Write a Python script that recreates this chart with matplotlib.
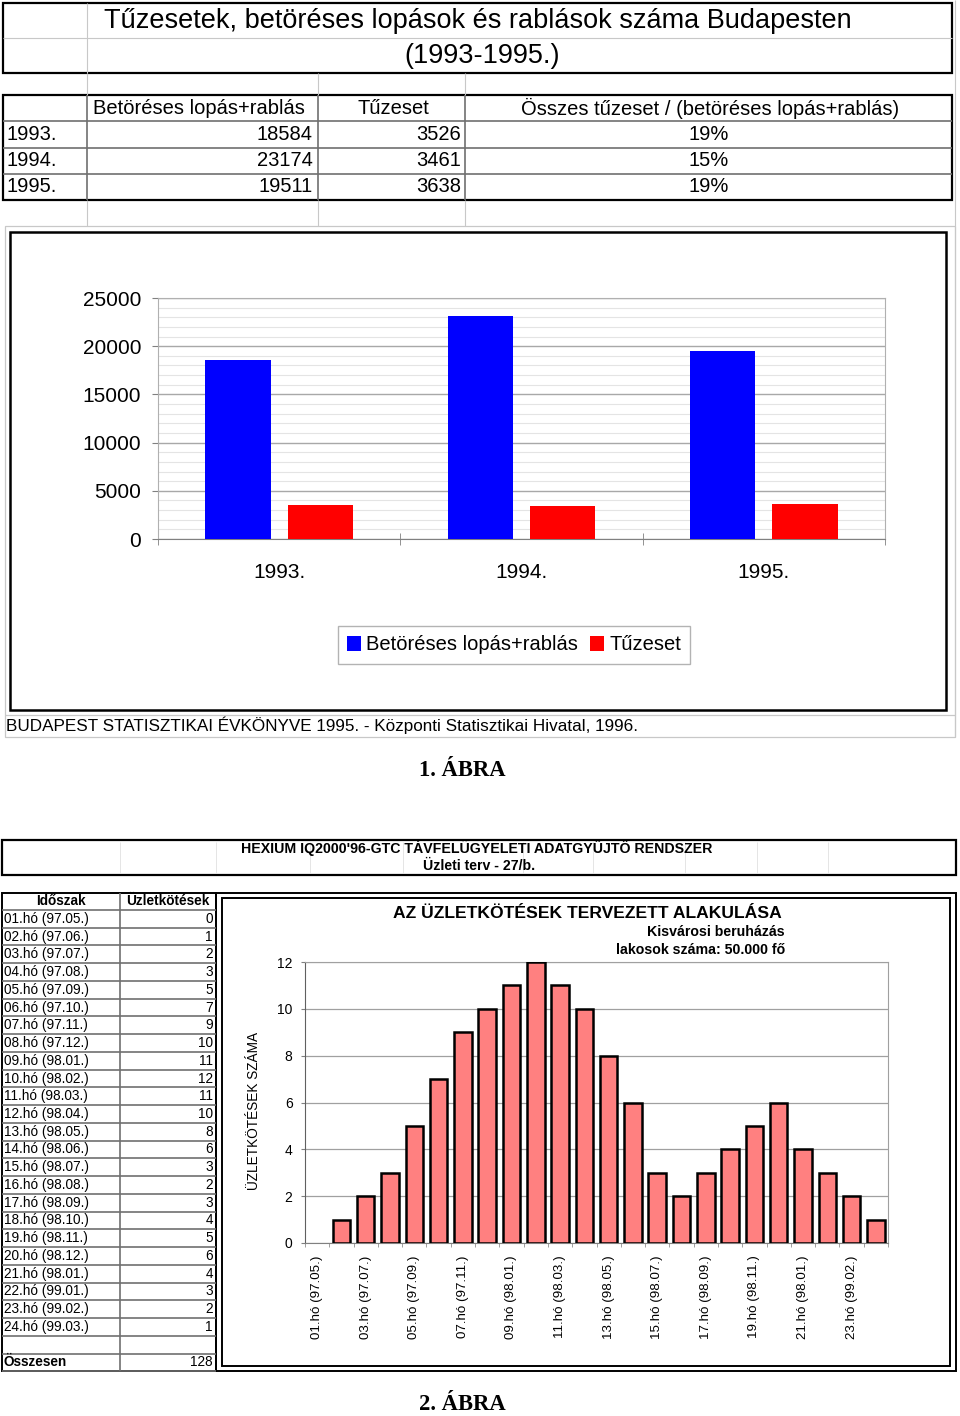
"""
plot.py
    two spreadsheet figures: burglary / fire counts in Budapest (1993-1995)
    and planned business deals per month (HEXIUM IQ2000'96-GTC)
"""

#%% import modules

import numpy as np
import matplotlib.pyplot as plt
import matplotlib as mpl
from matplotlib.patches import Rectangle

#%% global plot settings

mpl.rcParams.update(mpl.rcParamsDefault)
plt.rc('font', **{'family': 'sans-serif', 'sans-serif': ['Liberation Sans', 'DejaVu Sans']})

W, H = 960, 1416

#%% data

# 1. abra
years = ['1993.', '1994.', '1995.']
burglary = [18584, 23174, 19511]
fires = [3526, 3461, 3638]
ratio_labels = ['19%', '15%', '19%']
legend1 = ['Betöréses lopás+rablás', 'Tűzeset']

# 2. abra
periods = ['01.hó (97.05.)', '02.hó (97.06.)', '03.hó (97.07.)', '04.hó (97.08.)',
           '05.hó (97.09.)', '06.hó (97.10.)', '07.hó (97.11.)', '08.hó (97.12.)',
           '09.hó (98.01.)', '10.hó (98.02.)', '11.hó (98.03.)', '12.hó (98.04.)',
           '13.hó (98.05.)', '14.hó (98.06.)', '15.hó (98.07.)', '16.hó (98.08.)',
           '17.hó (98.09.)', '18.hó (98.10.)', '19.hó (98.11.)', '20.hó (98.12.)',
           '21.hó (98.01.)', '22.hó (99.01.)', '23.hó (99.02.)', '24.hó (99.03.)']
deals = [0, 1, 2, 3, 5, 7, 9, 10, 11, 12, 11, 10, 8, 6, 3, 2, 3, 4, 5, 6, 4, 3, 2, 1]

#%% helpers

def rect(x0, y0, x1, y1):
    # pixel box (top-left origin) -> figure fraction
    return [x0 / W, 1 - y1 / H, (x1 - x0) / W, (y1 - y0) / H]

fig = plt.figure(figsize=(W / 100, H / 100), dpi=100)
bg = fig.add_axes([0, 0, 1, 1])
bg.set_xlim(0, W)
bg.set_ylim(H, 0)
bg.axis('off')

light = '#c8c8c8'
mid = '#707070'

def hl(y, x0, x1, c=mid, lw=1.2):
    bg.plot([x0, x1], [y, y], color=c, lw=lw, solid_capstyle='butt')

def vl(x, y0, y1, c=mid, lw=1.2):
    bg.plot([x, x], [y0, y1], color=c, lw=lw, solid_capstyle='butt')

def box(x0, y0, x1, y1, c='k', lw=1.6):
    bg.add_patch(Rectangle((x0, y0), x1 - x0, y1 - y0, fill=False, ec=c, lw=lw))

#%% top table

# spreadsheet grid
hl(38, 3, 952, light, 0.8)
vl(87, 3, 73, light, 0.8)
for x in [87, 318, 465]:
    vl(x, 73, 95, light, 0.8)
    vl(x, 200, 226, light, 0.8)
vl(955, 0, 737, light, 0.8)

box(3, 3, 952, 73)
bg.text(478, 21, 'Tűzesetek, betöréses lopások és rablások száma Budapesten',
        ha='center', va='center', fontsize=19.5)
bg.text(482, 56, '(1993-1995.)', ha='center', va='center', fontsize=19.5)

# data table
box(3, 95, 952, 200)
for y in [121, 147.5, 174]:
    hl(y, 3, 952)
for x in [87, 318, 465]:
    vl(x, 95, 200)
fs_tab = 14.5
bg.text(199, 108, 'Betöréses lopás+rablás', ha='center', va='center', fontsize=fs_tab)
bg.text(393, 108, 'Tűzeset', ha='center', va='center', fontsize=fs_tab)
bg.text(710, 108, 'Összes tűzeset / (betöréses lopás+rablás)', ha='center',
        va='center', fontsize=fs_tab)
for i, yr in enumerate(years):
    y = 134 + i * 26.5
    bg.text(7, y, yr, ha='left', va='center', fontsize=fs_tab)
    bg.text(313, y, str(burglary[i]), ha='right', va='center', fontsize=fs_tab)
    bg.text(461, y, str(fires[i]), ha='right', va='center', fontsize=fs_tab)
    bg.text(709, y, ratio_labels[i], ha='center', va='center', fontsize=fs_tab)

# chart cell + source row
box(5, 226, 955, 737, light, 0.9)
hl(715, 5, 955, light, 0.9)
box(10, 232, 946, 710, 'k', 1.8)
bg.text(6, 725, 'BUDAPEST STATISZTIKAI ÉVKÖNYVE 1995. - Központi Statisztikai Hivatal, 1996.',
        ha='left', va='center', fontsize=12.3)
bg.text(462, 771, '1. ÁBRA', ha='center', va='center', fontsize=16.3,
        family='Liberation Serif', weight='bold')

#%% chart 1

ax1 = fig.add_axes(rect(158, 298, 885, 539))
x = np.arange(len(years))
w = 0.27
b1 = ax1.bar(x - 0.17, burglary, w, color='#0000ff', zorder=3)
b2 = ax1.bar(x + 0.17, fires, w, color='#ff0000', zorder=3)

ax1.set_xlim(-0.5, 2.5)
ax1.set_ylim(0, 25000)
ax1.set_yticks(np.arange(0, 25001, 5000))
ax1.set_yticks(np.arange(0, 25001, 1000), minor=True)
ax1.yaxis.grid(True, which='major', color='#a8a8a8', lw=1.0, zorder=0)
ax1.yaxis.grid(True, which='minor', color='#e4e4e4', lw=0.8, zorder=0)
ax1.tick_params(axis='y', which='major', length=4, color='#808080', pad=8, labelsize=15)
ax1.tick_params(axis='y', which='minor', length=0)
ax1.set_xticks(x)
ax1.set_xticklabels(years)
ax1.set_xticks(np.arange(-0.5, 3, 1), minor=True)
ax1.tick_params(axis='x', which='major', length=0, pad=17, labelsize=15)
ax1.tick_params(axis='x', which='minor', direction='inout', length=9, color='#808080')
for s in ['top', 'right', 'left']:
    ax1.spines[s].set_color('#b0b0b0')
ax1.spines['bottom'].set_color('#808080')
ax1.set_axisbelow(True)

leg = ax1.legend([b1, b2], legend1, loc='center', ncol=2,
                 bbox_to_anchor=(514 / W, 1 - 645 / H), bbox_transform=fig.transFigure,
                 fontsize=14.5, frameon=True, fancybox=False, edgecolor='#a0a0a0',
                 handlelength=0.7, handleheight=0.7, handletextpad=0.25,
                 columnspacing=0.6, borderpad=0.45, borderaxespad=0)
leg.get_frame().set_linewidth(1.0)

#%% second section header

box(2, 840, 956, 875, 'k', 1.6)
for xg in [120, 216, 310, 403, 523, 593, 685, 757, 828]:
    vl(xg, 842, 873, '#e0e0e0', 0.6)
bg.text(477, 848, "HEXIUM IQ2000'96-GTC TÁVFELÜGYELETI ADATGYŰJTŐ RENDSZER",
        ha='center', va='center', fontsize=10.2, weight='bold')
bg.text(479, 866, 'Üzleti terv - 27/b.', ha='center', va='center',
        fontsize=10.2, weight='bold')

#%% left table

fs_t2 = 9.8
row_h = 17.74
top = 910
hl(top, 2, 216)
for i in range(len(periods) + 2):
    hl(top + (i + 1) * row_h, 2, 216)
vl(120, 893, 1371)
box(2, 893, 216, 1371, 'k', 1.4)
bg.text(61, 901, 'Időszak', ha='center', va='center', fontsize=fs_t2, weight='bold')
bg.text(168, 901, 'Üzletkötések', ha='center', va='center', fontsize=fs_t2, weight='bold')
for i, (p, v) in enumerate(zip(periods, deals)):
    y = top + (i + 0.5) * row_h
    bg.text(4, y, p, ha='left', va='center', fontsize=fs_t2)
    bg.text(213, y, str(v), ha='right', va='center', fontsize=fs_t2)
y_tot = top + (len(periods) + 1.5) * row_h
bg.text(4, y_tot, 'Összesen', ha='left', va='center', fontsize=fs_t2, weight='bold')
bg.text(213, y_tot, str(sum(deals)), ha='right', va='center', fontsize=fs_t2)

#%% chart 2 frame and texts

box(216, 893, 956, 1371, 'k', 1.4)
box(222, 898, 950, 1366, 'k', 1.4)
bg.text(587, 913, 'AZ ÜZLETKÖTÉSEK TERVEZETT ALAKULÁSA', ha='center', va='center',
        fontsize=12.6, weight='bold')
bg.text(785, 932, 'Kisvárosi beruházás', ha='right', va='center', fontsize=10.2,
        weight='bold')
bg.text(785, 950, 'lakosok száma: 50.000 fő', ha='right', va='center', fontsize=10.2,
        weight='bold')
bg.text(254, 1111, 'ÜZLETKÖTÉSEK SZÁMA', ha='center', va='center', rotation=90,
        fontsize=9.8)
bg.text(462, 1404, '2. ÁBRA', ha='center', va='center', fontsize=16.3,
        family='Liberation Serif', weight='bold')

#%% chart 2

ax2 = fig.add_axes(rect(305, 962, 888, 1243))
xi = np.arange(len(deals))
edge_w = [1.8 if v > 0 else 0 for v in deals]
ax2.bar(xi, deals, 0.72, color='#ff8080', edgecolor='k', linewidth=edge_w, zorder=3)
ax2.set_xlim(-0.5, len(deals) - 0.5)
ax2.set_ylim(0, 12)
ax2.set_yticks(np.arange(0, 13, 2))
ax2.yaxis.grid(True, color='#a0a0a0', lw=0.9, zorder=0)
ax2.tick_params(axis='y', length=3, color='#808080', pad=6, labelsize=10)
ax2.set_xticks(xi)
ax2.set_xticklabels([p if i % 2 == 0 else '' for i, p in enumerate(periods)],
                    rotation=90, fontsize=9.6)
ax2.tick_params(axis='x', which='major', length=0, pad=9)
ax2.set_xticks(np.arange(-0.5, len(deals), 1), minor=True)
ax2.tick_params(axis='x', which='minor', length=3, color='#909090')
for s in ['top', 'right']:
    ax2.spines[s].set_color('#a0a0a0')
ax2.spines['left'].set_color('#606060')
ax2.spines['bottom'].set_color('#808080')
ax2.set_axisbelow(True)

#------------------------------------------------------------------------------
# save plot

fig.savefig('out.png', dpi=100)
